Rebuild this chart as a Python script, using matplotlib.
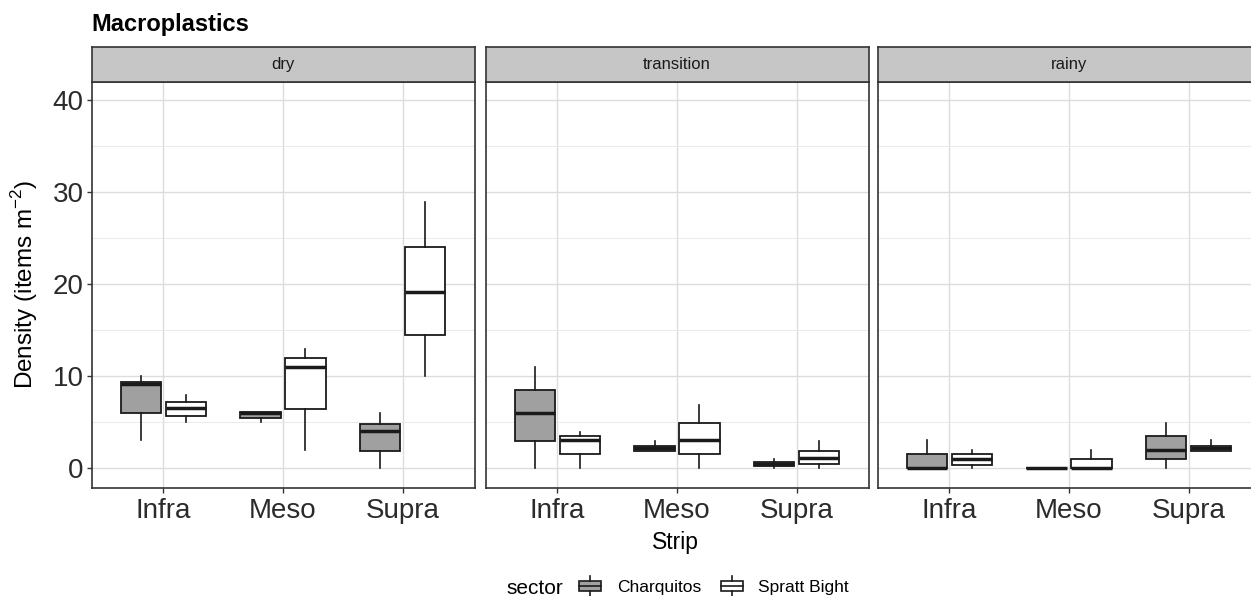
import matplotlib
matplotlib.use("Agg")
import matplotlib.pyplot as plt
from matplotlib.legend_handler import HandlerBase
from matplotlib.patches import Rectangle, Patch
from matplotlib.lines import Line2D

plt.rcParams['font.family'] = ['Liberation Sans', 'DejaVu Sans']

# DATA
seasons = ['dry', 'transition', 'rainy']
strips = ['Infra', 'Meso', 'Supra']
sectors = ['Charquitos', 'Spratt Bight']

# rows = season, cols = strip
charq_lo = [[3.1, 5.0, 0.0], [0.0, 1.9, 0.05], [0.0, 0.0, 0.0]]
charq_q1 = [[5.95, 5.5, 1.9], [3.0, 1.9, 0.25], [0.0, 0.0, 0.95]]
charq_med = [[9.1, 5.95, 4.0], [6.05, 2.15, 0.5], [0.0, 0.0, 2.0]]
charq_q3 = [[9.4, 6.1, 4.85], [8.5, 2.4, 0.7], [1.5, 0.0, 3.5]]
charq_hi = [[10.0, 6.1, 6.0], [11.0, 3.0, 1.0], [3.1, 0.0, 4.95]]

spratt_lo = [[5.0, 2.0, 10.0], [0.0, 0.0, 0.0], [0.05, 0.0, 1.9]]
spratt_q1 = [[5.65, 6.4, 14.5], [1.5, 1.5, 0.4], [0.35, 0.0, 1.9]]
spratt_med = [[6.5, 11.0, 19.1], [3.1, 3.1, 1.1], [1.0, 0.0, 2.15]]
spratt_q3 = [[7.2, 12.0, 24.0], [3.5, 4.9, 1.9], [1.5, 1.0, 2.45]]
spratt_hi = [[8.0, 13.0, 28.9], [3.95, 6.9, 3.0], [1.95, 2.0, 3.05]]

fills = ['#a0a0a0', 'white']
edge = '#1a1a1a'
frame = '#333333'

W, H = 1251, 596
fig = plt.figure(figsize=(W / 100, H / 100), dpi=100)


def px(l, t, w, h):
    return [l / W, 1 - (t + h) / H, w / W, h / H]


lefts = [91.5, 485.5, 877.5]
pw = 383
top, bot = 81.7, 487.5
strip_top = 47.3


def stats_for(lo, q1, med, q3, hi, i):
    return [dict(whislo=lo[i][j], q1=q1[i][j], med=med[i][j], q3=q3[i][j],
                 whishi=hi[i][j], fliers=[]) for j in range(3)]


for i, season in enumerate(seasons):
    ax = fig.add_axes(px(lefts[i], top, pw, bot - top))
    ax.set_xlim(0.4, 3.6)
    ax.set_ylim(-2.1, 42)
    ax.set_axisbelow(True)

    sets = [(charq_lo, charq_q1, charq_med, charq_q3, charq_hi),
            (spratt_lo, spratt_q1, spratt_med, spratt_q3, spratt_hi)]
    for k, data in enumerate(sets):
        pos = [j + 1 + (k - 0.5) * 0.375 for j in range(3)]
        ax.bxp(stats_for(*data, i), positions=pos, widths=0.3375,
               patch_artist=True, showcaps=False, showfliers=False,
               boxprops=dict(facecolor=fills[k], edgecolor=edge, linewidth=1.3),
               whiskerprops=dict(color=edge, linewidth=1.2),
               medianprops=dict(color=edge, linewidth=2.5, solid_capstyle='butt'),
               manage_ticks=False)

    ax.set_xticks([1, 2, 3])
    ax.set_xticklabels(strips, fontsize=20, color='#2b2b2b')
    ax.set_yticks([0, 10, 20, 30, 40])
    ax.set_yticks([5, 15, 25, 35], minor=True)
    ax.grid(which='major', color='#dcdcdc', linewidth=1.0)
    ax.grid(which='minor', axis='y', color='#e6e6e6', linewidth=0.6)
    ax.tick_params(which='minor', length=0)
    ax.tick_params(axis='x', length=3.5, width=1, color=frame, pad=4)
    if i == 0:
        ax.tick_params(axis='y', labelsize=20, labelcolor='#2b2b2b',
                       length=3.5, width=1, color=frame, pad=2)
    else:
        ax.tick_params(axis='y', left=False, labelleft=False)
    for s in ax.spines.values():
        s.set_color(frame)
        s.set_linewidth(1.2)

    sax = fig.add_axes(px(lefts[i], strip_top, pw, top - strip_top))
    sax.set_facecolor('#c6c6c6')
    sax.set_xticks([])
    sax.set_yticks([])
    for s in sax.spines.values():
        s.set_color(frame)
        s.set_linewidth(1.2)
    sax.text(0.5, 0.5, season, ha='center', va='center', fontsize=12,
             color='#1a1a1a', transform=sax.transAxes)

fig.text(91 / W, 1 - 24 / H, 'Macroplastics', fontsize=17, fontweight='bold',
         ha='left', va='center')
fig.text(25 / W, 1 - (top + bot) / 2 / H, 'Density (items m$^{\\mathregular{-2}}$)',
         rotation=90, fontsize=17.5, ha='center', va='center')
fig.text(675 / W, 1 - 542 / H, 'Strip', fontsize=16.5, ha='center', va='center')


class BoxKey(HandlerBase):
    def create_artists(self, legend, orig_handle, xdescent, ydescent,
                       width, height, fontsize, trans):
        x0, y0 = -xdescent, -ydescent
        fc = orig_handle.get_facecolor()
        box = Rectangle((x0 + 0.08 * width, y0 + 0.25 * height), 0.84 * width,
                        0.5 * height, facecolor=fc, edgecolor=edge, lw=1.2,
                        transform=trans)
        xm = x0 + width / 2
        med = Line2D([x0 + 0.08 * width, x0 + 0.92 * width], [y0 + height / 2] * 2,
                     color=edge, lw=1.2, transform=trans)
        w1 = Line2D([xm, xm], [y0, y0 + 0.25 * height], color=edge, lw=1.2,
                    transform=trans)
        w2 = Line2D([xm, xm], [y0 + 0.75 * height, y0 + height], color=edge,
                    lw=1.2, transform=trans)
        return [box, med, w1, w2]


handles = [Patch(facecolor=c) for c in fills]
fig.text(563 / W, 1 - 588 / H, 'sector', fontsize=15, ha='right', va='center')
fig.legend(handles, sectors, loc='center left',
           bbox_to_anchor=(577 / W, 1 - 586 / H), ncol=2, frameon=False,
           fontsize=12.5, handler_map={Patch: BoxKey()}, handlelength=1.5,
           handleheight=1.4, handletextpad=0.8, columnspacing=1.0,
           borderpad=0, borderaxespad=0)

fig.savefig('out.png', dpi=100)
